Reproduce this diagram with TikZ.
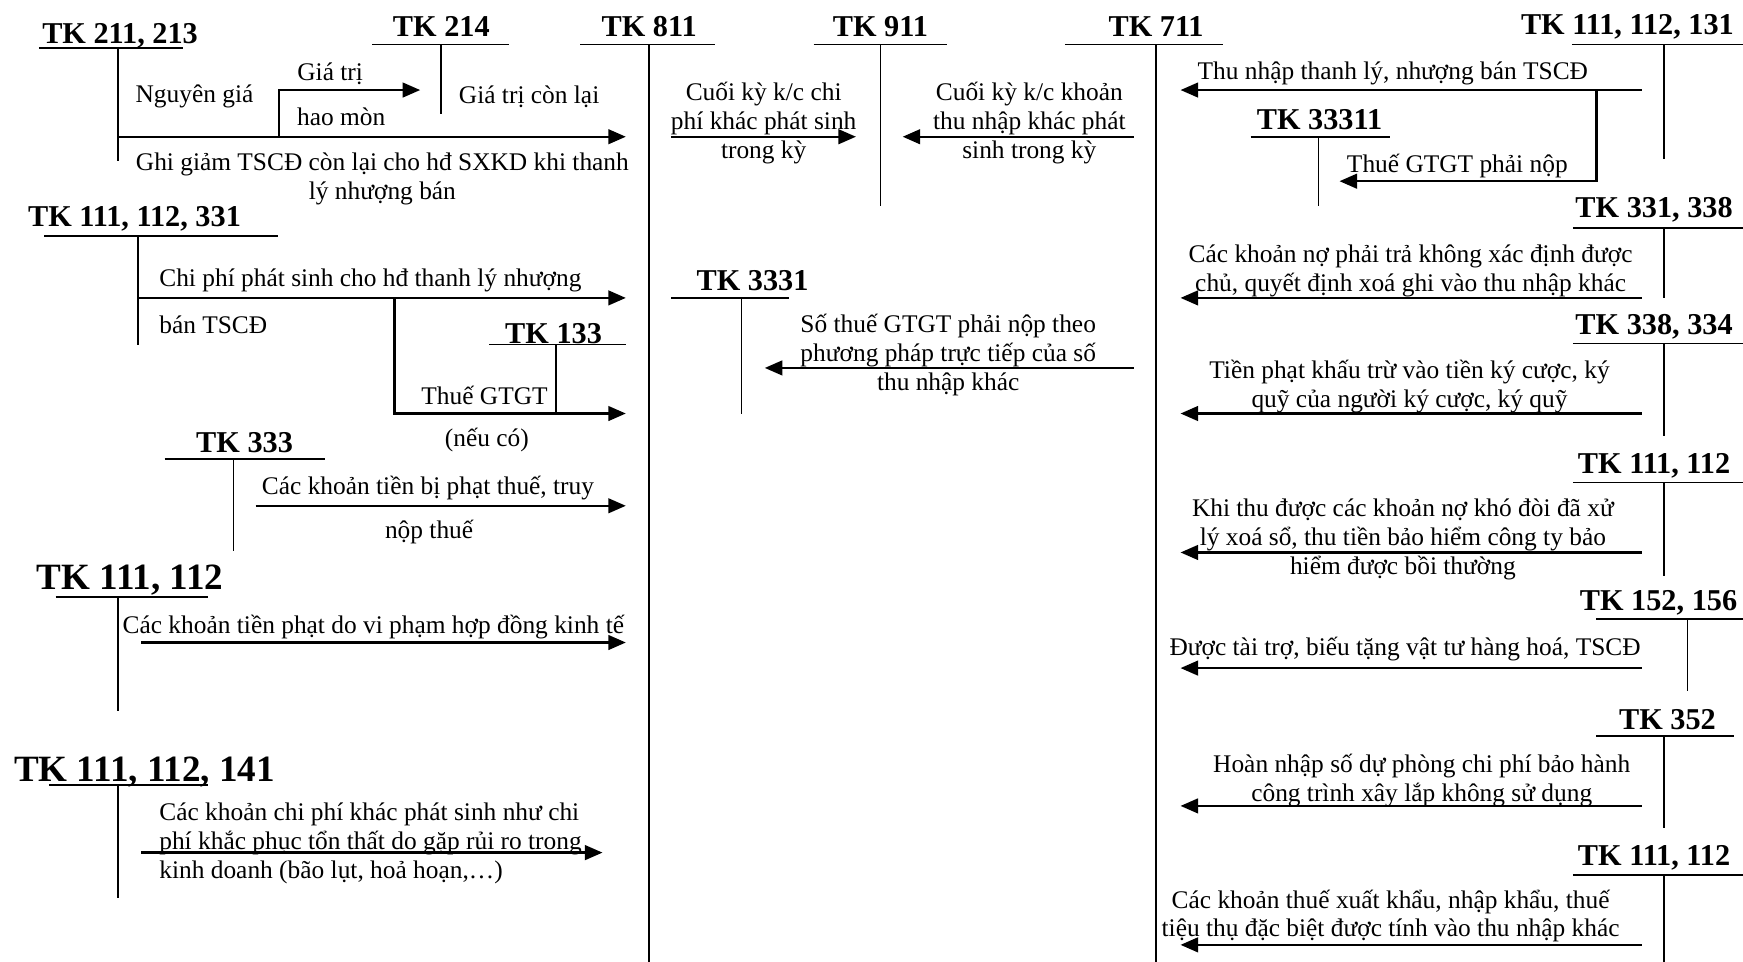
\documentclass[tikz,border=0pt]{standalone}
\usepackage{fontspec}
\setmainfont{Liberation Serif}
\usetikzlibrary{arrows.meta}
\tikzset{
  tline/.style={line width=0.9pt},
  arr/.style={line width=1.25pt,-{Triangle[length=9pt,width=7.5pt]}},
  head/.style={font=\bfseries\fontsize{15.5}{17}\selectfont,inner sep=0pt},
  bighead/.style={font=\bfseries\fontsize{19}{21}\selectfont,inner sep=0pt},
  lbl/.style={font=\fontsize{13}{14.8}\selectfont,inner sep=0pt,align=center,yshift=-0.08cm},
  lbll/.style={font=\fontsize{13}{14.8}\selectfont,inner sep=0pt,align=left,yshift=-0.08cm},
}
\begin{document}
\begin{tikzpicture}[x=0.02cm,y=-0.02cm]
\useasboundingbox (0,0) rectangle (1568,865);

% ---------- account headings ----------
\node[head] (h211) at (108,32) {TK 211, 213};
\node[head] (h214) at (397,24) {TK 214};
\node[head] (h811) at (584,24) {TK 811};
\node[head] (h911) at (792,24) {TK 911};
\node[head] (h711) at (1040,24) {TK 711};
\node[head] (h131) at (1464,24) {TK 111, 112, 131};
\node[head] (h33311) at (1187,108) {TK 33311};
\node[head] (h338a) at (1488,189) {TK 331, 338};
\node[head] (h334) at (1488,294) {TK 338, 334};
\node[head] (h112r) at (1488,419) {TK 111, 112};
\node[head] (h156) at (1492,542) {TK 152, 156};
\node[head] (h352) at (1500,647) {TK 352};
\node[head] (h112s) at (1488,772) {TK 111, 112};
\node[head] (h331) at (121,197) {TK 111, 112, 331};
\node[head] (h133) at (498,300) {TK 133};
\node[head] (h333) at (220,398) {TK 333};
\node[head] (h3331) at (677,252) {TK 3331};
\node[bighead] (h112l) at (117,522) {TK 111, 112};
\node[bighead] (h141) at (130,695) {TK 111, 112, 141};

% ---------- T-account rulings ----------
\draw[tline] (35,43) -- (165,43);   \draw[tline] (106,43) -- (106,145);
\draw[tline] (335,40) -- (458,40);  \draw[tline] (397,40) -- (397,103);
\draw[tline] (522,40) -- (643,40);  \draw[tline] (584,40) -- (584,865);
\draw[tline] (732,40) -- (852,40);  \draw[tline] (792,40) -- (792,185);
\draw[tline] (958,40) -- (1100,40); \draw[tline] (1040,40) -- (1040,865);
\draw[tline] (1414,40) -- (1568,40); \draw[tline] (1497,40) -- (1497,143);
\draw[tline] (1125,123) -- (1250,123); \draw[tline] (1186,123) -- (1186,185);
\draw[tline] (1415,205) -- (1568,205); \draw[tline] (1497,205) -- (1497,268);
\draw[tline] (1415,309) -- (1568,309); \draw[tline] (1497,309) -- (1497,392);
\draw[tline] (1415,434) -- (1568,434); \draw[tline] (1497,434) -- (1497,518);
\draw[tline] (1436,557) -- (1568,557); \draw[tline] (1518,557) -- (1518,622);
\draw[tline] (1436,662) -- (1560,662); \draw[tline] (1497,662) -- (1497,745);
\draw[tline] (1415,787) -- (1568,787); \draw[tline] (1497,787) -- (1497,865);
\draw[tline] (40,212) -- (250,212);  \draw[tline] (124,212) -- (124,310);
\draw[tline] (440,310) -- (563,310); \draw[tline] (500,310) -- (500,372);
\draw[tline] (148,413) -- (292,413); \draw[tline] (210,413) -- (210,496);
\draw[tline] (604,268) -- (710,268); \draw[tline] (667,268) -- (667,372);
\draw[tline] (50,537) -- (187,537);  \draw[tline] (106,537) -- (106,640);
\draw[tline] (44,706) -- (187,706);  \draw[tline] (106,706) -- (106,808);

% ---------- connector end points ----------
\coordinate (g1) at (106,123);  \coordinate (g2) at (563,123);
\coordinate (hm0) at (251,123); \coordinate (hm1) at (251,81); \coordinate (hm2) at (378,81);
\coordinate (k1) at (604,123);  \coordinate (k2) at (770,123);
\coordinate (n1) at (1020,123); \coordinate (n2) at (812,123);
\coordinate (t1) at (1477,81);  \coordinate (t2) at (1062,81);
\coordinate (v0) at (1436,81);  \coordinate (v1) at (1436,163); \coordinate (v2) at (1205,163);
\coordinate (p1) at (1477,268); \coordinate (p2) at (1062,268);
\coordinate (q1) at (1477,372); \coordinate (q2) at (1062,372);
\coordinate (r1) at (1477,497); \coordinate (r2) at (1062,497);
\coordinate (s1) at (1477,601); \coordinate (s2) at (1062,601);
\coordinate (u1) at (1477,725); \coordinate (u2) at (1062,725);
\coordinate (w1) at (1477,850); \coordinate (w2) at (1062,850);
\coordinate (c1) at (124,268);  \coordinate (c2) at (563,268);
\coordinate (d0) at (355,268);  \coordinate (d1) at (355,372); \coordinate (d2) at (563,372);
\coordinate (e1) at (230,455);  \coordinate (e2) at (563,455);
\coordinate (f1) at (127,578);  \coordinate (f2) at (563,578);
\coordinate (m1) at (127,767);  \coordinate (m2) at (542,767);
\coordinate (x1) at (1020,331); \coordinate (x2) at (688,331);

% ---------- connectors ----------
\draw[arr] (g1) -- (g2);
\draw[arr] (hm0) -- (hm1) -- (hm2);
\draw[arr] (k1) -- (k2);
\draw[arr] (n1) -- (n2);
\draw[arr] (t1) -- (t2);
\draw[arr] (v0) -- (v1) -- (v2);
\draw[arr] (p1) -- (p2);
\draw[arr] (q1) -- (q2);
\draw[arr] (r1) -- (r2);
\draw[arr] (s1) -- (s2);
\draw[arr] (u1) -- (u2);
\draw[arr] (w1) -- (w2);
\draw[arr] (c1) -- (c2);
\draw[arr] (d0) -- (d1) -- (d2);
\draw[arr] (e1) -- (e2);
\draw[arr] (f1) -- (f2);
\draw[arr] (m1) -- (m2);
\draw[arr] (x1) -- (x2);

% ---------- entry descriptions ----------
\node[lbl] (l1) at (175,83) {Nguyên giá};
\node[lbl] (l2) at (297,62) {Giá trị};
\node[lbl] (l3) at (307,101) {hao mòn};
\node[lbl] (l4) at (476,83) {Giá trị còn lại};
\node[lbl] (l5) at (344,157) {Ghi giảm TSCĐ còn lại cho hđ SXKD khi thanh\\lý nhượng bán};
\node[lbl] (l6) at (687,107) {Cuối kỳ k/c chi\\phí khác phát sinh\\trong kỳ};
\node[lbl] (l7) at (926,107) {Cuối kỳ k/c khoản\\thu nhập khác phát\\sinh trong kỳ};
\node[lbl] (l8) at (1253,62) {Thu nhập thanh lý, nhượng bán TSCĐ};
\node[lbl] (l9) at (1311,145) {Thuế GTGT phải nộp};
\node[lbl] (l10) at (1269,240) {Các khoản nợ phải trả không xác định được\\chủ, quyết định xoá ghi vào thu nhập khác};
\node[lbl] (l11) at (1268,344) {Tiền phạt khấu trừ vào tiền ký cược, ký\\quỹ của người ký cược, ký quỹ};
\node[lbl] (l12) at (1262,481) {Khi thu được các khoản nợ khó đòi đã xử\\lý xoá sổ, thu tiền bảo hiểm công ty bảo\\hiểm được bồi thường};
\node[lbl] (l13) at (1264,580) {Được tài trợ, biếu tặng vật tư hàng hoá, TSCĐ};
\node[lbl] (l14) at (1279,698) {Hoàn nhập số dự phòng chi phí bảo hành\\công trình xây lắp không sử dụng};
\node[lbl] (l15) at (1251,820) {Các khoản thuế xuất khẩu, nhập khẩu, thuế\\tiệu thụ đặc biệt được tính vào thu nhập khác};
\node[lbl,anchor=west] (l16) at (143,248) {Chi phí phát sinh cho hđ thanh lý nhượng};
\node[lbl,anchor=west] (l17) at (143,288) {bán TSCĐ};
\node[lbl,anchor=east] (l18) at (493,352) {Thuế GTGT};
\node[lbl] (l19) at (438,392) {(nếu có)};
\node[lbl] (l20) at (385,435) {Các khoản tiền bị phạt thuế, truy};
\node[lbl] (l21) at (386,475) {nộp thuế};
\node[lbl,anchor=west] (l22) at (110,560) {Các khoản tiền phạt do vi phạm hợp đồng kinh tế};
\node[lbll,anchor=west] (l23) at (143,755) {Các khoản chi phí khác phát sinh như chi\\phí khắc phục tổn thất do gặp rủi ro trong\\kinh doanh (bão lụt, hoả hoạn,…)};
\node[lbl] (l24) at (853,315) {Số thuế GTGT phải nộp theo\\phương pháp trực tiếp của số\\thu nhập khác};
\end{tikzpicture}
\end{document}
